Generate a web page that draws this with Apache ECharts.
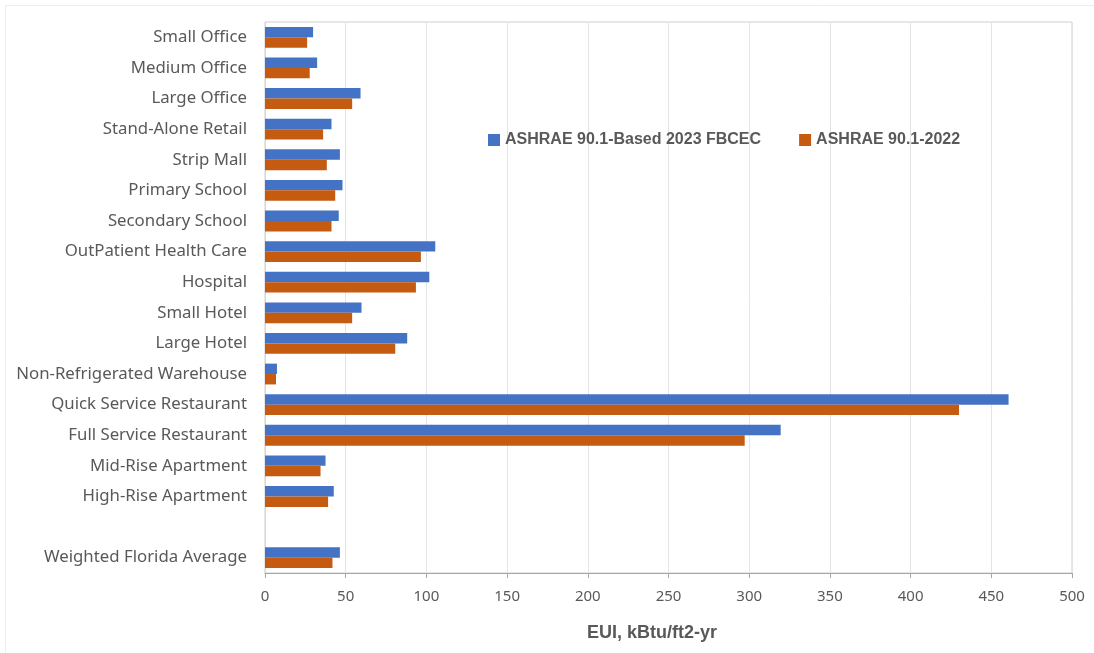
<!DOCTYPE html>
<html>
<head>
<meta charset="utf-8">
<script src="https://cdn.jsdelivr.net/npm/echarts@6/dist/echarts.min.js"></script>
<style>
  html, body { margin: 0; padding: 0; background: #ffffff; }
  #chart { width: 1094px; height: 653px; }
</style>
</head>
<body>
<div id="chart"></div>
<script>
// Building types (an empty entry leaves a gap before the weighted average)
const categories = [
  'Small Office', 'Medium Office', 'Large Office', 'Stand-Alone Retail',
  'Strip Mall', 'Primary School', 'Secondary School', 'OutPatient Health Care',
  'Hospital', 'Small Hotel', 'Large Hotel', 'Non-Refrigerated Warehouse',
  'Quick Service Restaurant', 'Full Service Restaurant', 'Mid-Rise Apartment',
  'High-Rise Apartment', '', 'Weighted Florida Average'
];

// EUI, kBtu/ft2-yr
const fbcec2023 = [29.8, 32.3, 59.2, 41.2, 46.4, 48.0, 45.7, 105.5, 101.8, 59.8, 88.1, 7.4, 460.7, 319.5, 37.5, 42.6, null, 46.4];
const ashrae2022 = [26.1, 27.7, 54.0, 36.0, 38.3, 43.5, 41.2, 96.6, 93.5, 54.0, 80.7, 6.8, 430.0, 297.2, 34.4, 39.1, null, 41.8];

const seriesNames = ['ASHRAE 90.1-Based 2023 FBCEC', 'ASHRAE 90.1-2022'];
const xTicks = { min: 0, max: 500, interval: 50 };
const axisTitle = 'EUI, kBtu/ft2-yr';

const textColor = '#595959';
const fontFamily = '"Liberation Sans", Arial, sans-serif';
const labelFont = '"Noto Sans", "Liberation Sans", sans-serif';

const chart = echarts.init(document.getElementById('chart'));
chart.setOption({
  backgroundColor: '#ffffff',
  animation: false,
  textStyle: { fontFamily: fontFamily, color: textColor },
  graphic: [{
    type: 'rect',
    shape: { x: 5.5, y: 5.5, width: 1100, height: 700 },
    style: { fill: 'none', stroke: '#eeeeee', lineWidth: 1 },
    silent: true
  }],
  legend: {
    left: 483,
    top: 127,
    itemWidth: 12,
    itemHeight: 12,
    itemGap: 38,
    icon: 'rect',
    textStyle: { fontFamily: fontFamily, fontSize: 16, fontWeight: 'bold', color: textColor },
    data: seriesNames
  },
  grid: {
    left: 265,
    right: 22,
    top: 22,
    bottom: 80,
    show: true,
    borderColor: '#cfcfcf',
    borderWidth: 1
  },
  xAxis: {
    type: 'value',
    min: xTicks.min,
    max: xTicks.max,
    interval: xTicks.interval,
    name: axisTitle,
    nameLocation: 'middle',
    nameGap: 51,
    nameTextStyle: {
      fontFamily: fontFamily, fontSize: 18, fontWeight: 'bold', color: textColor,
      padding: [0, 33, 0, 0]
    },
    axisLine: { show: true, lineStyle: { color: '#a6a6a6', width: 1 } },
    axisTick: { show: true, length: 5, lineStyle: { color: '#a6a6a6' } },
    axisLabel: { margin: 16, fontSize: 15, color: textColor, fontFamily: labelFont },
    splitLine: { show: true, lineStyle: { color: '#e4e4e4', width: 1 } }
  },
  yAxis: {
    type: 'category',
    inverse: true,
    data: categories,
    axisLine: { show: true, lineStyle: { color: '#d9d9d9' } },
    axisTick: { show: false },
    axisLabel: { margin: 18, fontSize: 16.8, color: textColor, fontFamily: labelFont }
  },
  series: [
    {
      name: seriesNames[0],
      type: 'bar',
      data: fbcec2023,
      barGap: '0%',
      barCategoryGap: '32%',
      itemStyle: { color: '#4472C4' }
    },
    {
      name: seriesNames[1],
      type: 'bar',
      data: ashrae2022,
      barGap: '0%',
      barCategoryGap: '32%',
      itemStyle: { color: '#C55A11' }
    }
  ]
});
</script>
</body>
</html>
